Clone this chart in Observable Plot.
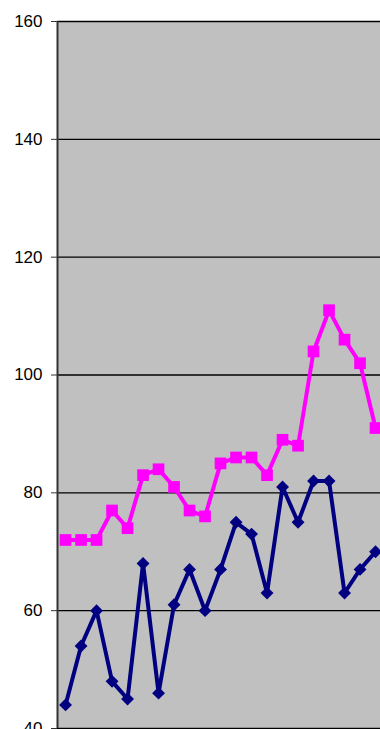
<!DOCTYPE html>
<html>
<head>
<meta charset="utf-8">
<script src="https://cdn.jsdelivr.net/npm/d3@7"></script>
<script src="https://cdn.jsdelivr.net/npm/@observablehq/plot@0.6"></script>
<style>
  html, body { margin: 0; padding: 0; background: #ffffff; overflow: hidden; }
  #chart svg { display: block; overflow: visible; }
</style>
</head>
<body>
<div id="chart"></div>
<script>
const categories = Array.from({length: 21}, (_, i) => i + 1);
const pinkValues = [72, 72, 72, 77, 74, 83, 84, 81, 77, 76, 85, 86, 86, 83, 89, 88, 104, 111, 106, 102, 91];
const navyValues = [44, 54, 60, 48, 45, 68, 46, 61, 67, 60, 67, 75, 73, 63, 81, 75, 82, 82, 63, 67, 70];
const yTicks = [40, 60, 80, 100, 120, 140, 160];

const pink = categories.map((c, i) => ({c, v: pinkValues[i]}));
const navy = categories.map((c, i) => ({c, v: navyValues[i]}));

const chart = Plot.plot({
  width: 380,
  height: 729,
  marginLeft: 57,
  marginRight: 0,
  marginTop: 21,
  marginBottom: 1,
  style: {fontFamily: "'Liberation Sans', Arial, sans-serif", fontSize: "17px", color: "#000", background: "#fff"},
  x: {type: "linear", domain: [0.48, 21.32], axis: null},
  y: {domain: [40, 160], ticks: yTicks, label: null},
  marks: [
    Plot.frame({fill: "#c0c0c0", stroke: null}),
    Plot.gridY(yTicks, {stroke: "#000", strokeOpacity: 1, strokeWidth: 1.3}),
    Plot.axisY(yTicks, {tickSize: 6, tickPadding: 9, stroke: "#333", label: null, fontSize: 17}),
    Plot.ruleX([0.48], {stroke: "#333", strokeWidth: 2}),
    Plot.line(pink, {x: "c", y: "v", stroke: "#ff00ff", strokeWidth: 4, clip: true}),
    Plot.dot(pink, {x: "c", y: "v", symbol: "square", r: 6.6, fill: "#ff00ff", stroke: null, clip: true}),
    Plot.line(navy, {x: "c", y: "v", stroke: "#000080", strokeWidth: 4, clip: true}),
    Plot.dot(navy, {x: "c", y: "v", symbol: "diamond2", r: 5.8, fill: "#000080", stroke: null, clip: true})
  ]
});
document.getElementById("chart").appendChild(chart);
</script>
</body>
</html>
